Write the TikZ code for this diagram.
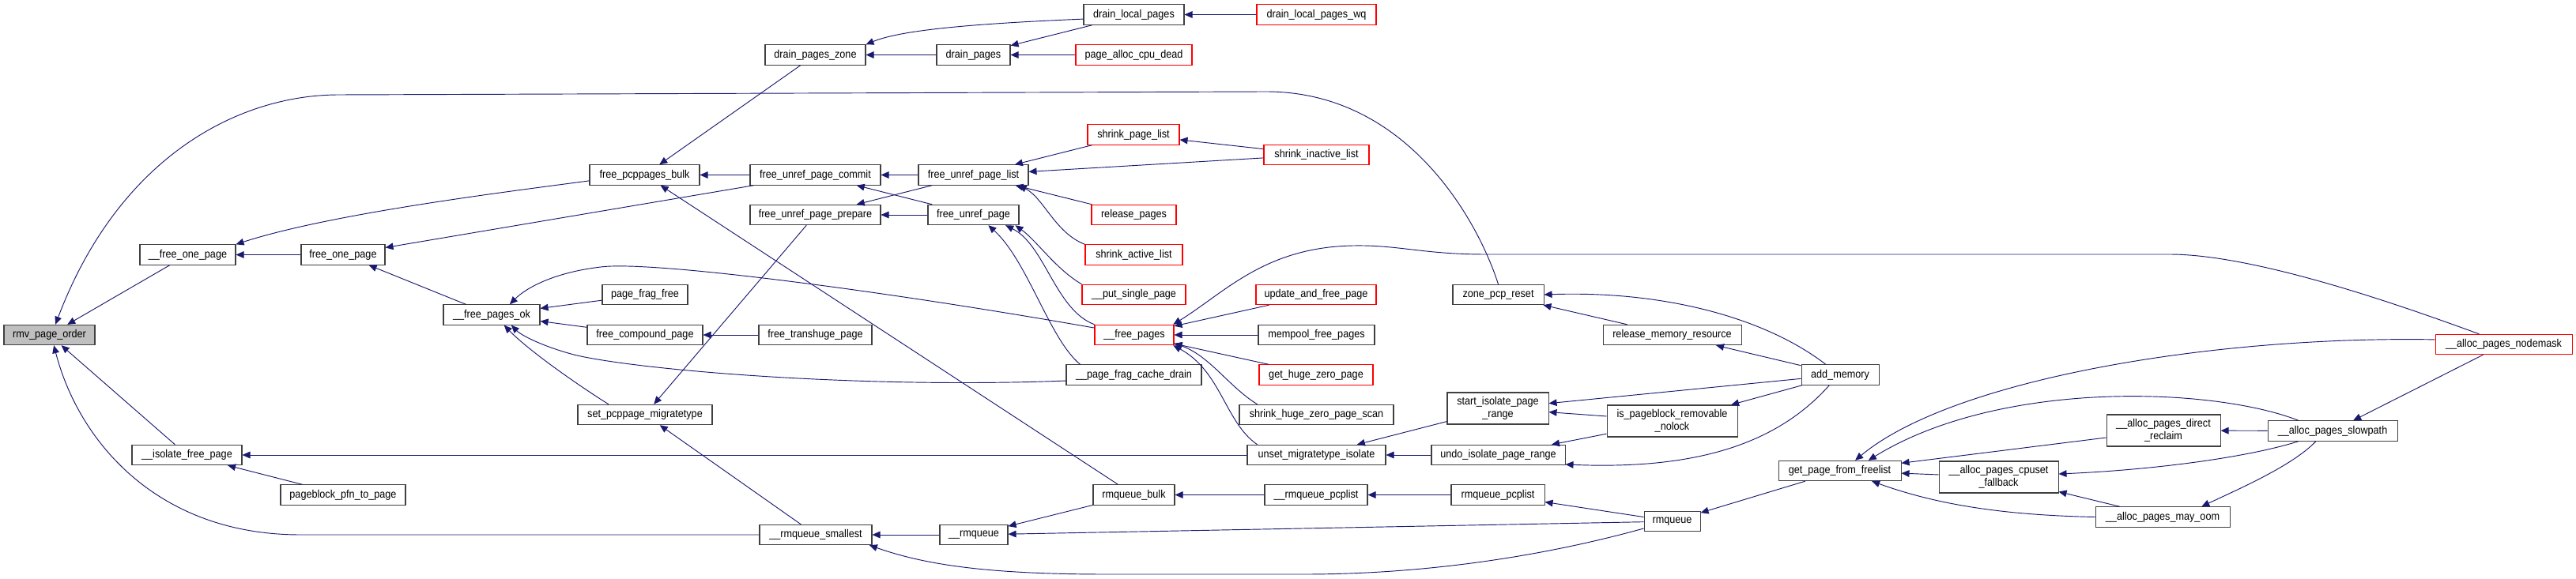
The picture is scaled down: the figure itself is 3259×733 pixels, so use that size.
\documentclass[tikz,border=0pt]{standalone}
\usepackage{fontspec}
\setmainfont[FakeStretch=0.9]{Liberation Sans}
\usetikzlibrary{arrows.meta}
\definecolor{callblue}{HTML}{191970}

\begin{document}
\begin{tikzpicture}[x=0.3mm,y=-0.3mm,
  fn/.style={draw=black!75, line width=0.9pt, fill=white, minimum width=#1*0.3mm,
    minimum height=7.6mm, inner sep=0pt, font=\fontsize{12}{13.4}\selectfont},
  fnred/.style={fn=#1, draw=red},
  fn2/.style={fn=#1, minimum height=12mm, align=center},
  call/.style={draw=callblue, line width=0.8pt, -{Triangle[length=3mm,width=2.6mm]}}]
  \useasboundingbox (0,0) rectangle (3259,733);

  \node[fn=115, fill=gray!50] (rmv) at (62.5,424) {rmv\_page\_order};
  \node[fn=121] (fop1) at (237.5,322.5) {\_\_free\_one\_page};
  \node[fn=106] (fop) at (434,322.5) {free\_one\_page};
  \node[fn=139] (fpb) at (815.5,221.5) {free\_pcppages\_bulk};
  \node[fn=127] (dpz) at (1031.5,69.5) {drain\_pages\_zone};
  \node[fn=93] (dp) at (1231.5,69.5) {drain\_pages};
  \node[fn=127] (dlp) at (1434.5,18.5) {drain\_local\_pages};
  \node[fnred=151] (dlpwq) at (1665.5,18.5) {drain\_local\_pages\_wq};
  \node[fnred=147] (pacd) at (1434.5,69.5) {page\_alloc\_cpu\_dead};
  \node[fn=165] (fupc) at (1031.5,221.5) {free\_unref\_page\_commit};
  \node[fn=139] (fupl) at (1231.5,221.5) {free\_unref\_page\_list};
  \node[fn=165] (fupp) at (1031.5,272) {free\_unref\_page\_prepare};
  \node[fn=115] (fup) at (1231.5,272) {free\_unref\_page};
  \node[fnred=116] (spl) at (1434,170.5) {shrink\_page\_list};
  \node[fnred=133] (sil) at (1665.5,196) {shrink\_inactive\_list};
  \node[fnred=107] (rp) at (1434.5,272) {release\_pages};
  \node[fnred=123] (sal) at (1434.5,322.5) {shrink\_active\_list};
  \node[fnred=131] (psp) at (1434.5,373) {\_\_put\_single\_page};
  \node[fn=122] (fpo) at (622,398.5) {\_\_free\_pages\_ok};
  \node[fn=108] (pff) at (816,373) {page\_frag\_free};
  \node[fn=146] (fcp) at (816,424) {free\_compound\_page};
  \node[fn=143] (fthp) at (1031.5,424) {free\_transhuge\_page};
  \node[fn=170] (spm) at (816,525) {set\_pcppage\_migratetype};
  \node[fn=139] (ifp) at (236.5,576) {\_\_isolate\_free\_page};
  \node[fn=158] (ppp) at (434,626.5) {pageblock\_pfn\_to\_page};
  \node[fnred=100] (fp) at (1435,424) {\_\_free\_pages};
  \node[fn=171] (pfcd) at (1434.5,474.5) {\_\_page\_frag\_cache\_drain};
  \node[fn=103] (rqb) at (1434.5,626.5) {rmqueue\_bulk};
  \node[fn=142] (rqs) at (1032,677) {\_\_rmqueue\_smallest};
  \node[fn=86] (rqq) at (1232,677) {\_\_rmqueue};
  \node[fnred=152] (uafp) at (1665,373) {update\_and\_free\_page};
  \node[fn=147] (mfp) at (1665.5,424) {mempool\_free\_pages};
  \node[fnred=144] (ghzp) at (1665,474.5) {get\_huge\_zero\_page};
  \node[fn=195] (shzps) at (1665.5,525) {shrink\_huge\_zero\_page\_scan};
  \node[fn=175] (umi) at (1665.5,576) {unset\_migratetype\_isolate};
  \node[fn=130] (rqplq) at (1665,626.5) {\_\_rmqueue\_pcplist};
  \node[fn=115] (zpr) at (1895.5,373) {zone\_pcp\_reset};
  \node[fn=175] (rmr) at (2115.5,424) {release\_memory\_resource};
  \node[fn=98] (am) at (2328,474.5) {add\_memory};
  \node[fn2=128] (sipr) at (1895,517) {start\_isolate\_page\\\_range};
  \node[fn2=165] (ipr) at (2115.5,533) {is\_pageblock\_removable\\\_nolock};
  \node[fn=169] (uipr) at (1895.5,576) {undo\_isolate\_page\_range};
  \node[fn=118] (rqpl) at (1895,626.5) {rmqueue\_pcplist};
  \node[fn=71] (rq) at (2115.5,660) {rmqueue};
  \node[fn=155] (gpff) at (2327.5,596) {get\_page\_from\_freelist};
  \node[fn2=151] (apcf) at (2528.5,604) {\_\_alloc\_pages\_cpuset\\\_fallback};
  \node[fn2=144] (apdr) at (2737,545) {\_\_alloc\_pages\_direct\\\_reclaim};
  \node[fn=170] (apmo) at (2736,654.5) {\_\_alloc\_pages\_may\_oom};
  \node[fn=164] (aps) at (2951,545.5) {\_\_alloc\_pages\_slowpath};
  \node[fnred=173] (apn) at (3167.5,436) {\_\_alloc\_pages\_nodemask};

  % callers of rmv_page_order
  \draw[call] (fop1) -- (rmv);
  \draw[call] (ifp) -- (rmv);
  \draw[call] (zpr.north) .. controls (1870,280) and (1780,115) .. (1600,116)
    -- (429,120) .. controls (300,120) and (150,200) .. (rmv.60);
  \draw[call] (rqs.west) -- (380,677) .. controls (200,677) and (100,560) .. (rmv.-67);

  \draw[call] (fop) -- (fop1);
  \draw[call] (fpb.-174) .. controls (640,243) and (420,270) .. (fop1.north east);
  \draw[call] (fupc) -- (fop);
  \draw[call] (fpo) -- (fop);
  \draw[call] (dpz) -- (fpb);
  \draw[call] (fupc) -- (fpb);
  \draw[call] (rqb) -- (fpb);
  \draw[call] (dp) -- (dpz);
  \draw[call] (dlp.-175) .. controls (1230,30) and (1140,38) .. (dpz.north east);
  \draw[call] (dlp) -- (dp);
  \draw[call] (pacd) -- (dp);
  \draw[call] (dlpwq) -- (dlp);
  \draw[call] (fupl) -- (fupc);
  \draw[call] (fup) -- (fupc);
  \draw[call] (fupl) -- (fupp);
  \draw[call] (fup) -- (fupp);
  \draw[call] (spl) -- (fupl);
  \draw[call] (sil) -- (fupl);
  \draw[call] (rp) -- (fupl);
  \draw[call] (sal.north west) .. controls (1335,295) and (1320,250) .. (fupl.-13);
  \draw[call] (sil) -- (spl);
  \draw[call] (psp.north west) .. controls (1335,340) and (1312,305) .. (fup.-14);
  \draw[call] (fp.north west) .. controls (1335,392) and (1322,310) .. (fup.-18);
  \draw[call] (pfcd.169) .. controls (1328,430) and (1300,330) .. (fup.-35);

  % __free_pages_ok
  \draw[call] (pff) -- (fpo);
  \draw[call] (fcp) -- (fpo);
  \draw[call] (fp.170) .. controls (1100,365) and (820,330) .. (760,338)
    .. controls (700,345) and (665,365) .. (fpo.30);
  \draw[call] (pfcd.-175) .. controls (1100,492) and (820,470) .. (730,450)
    .. controls (690,440) and (660,425) .. (fpo.-28);
  \draw[call] (spm.164) .. controls (735,490) and (670,445) .. (fpo.-40);
  \draw[call] (fthp) -- (fcp);
  \draw[call] (fupp) -- (spm);
  \draw[call] (rqs) -- (spm);
  \draw[call] (ppp) -- (ifp);
  \draw[call] (umi) -- (ifp);

  % __free_pages
  \draw[call] (uafp) -- (fp);
  \draw[call] (mfp) -- (fp);
  \draw[call] (ghzp) -- (fp);
  \draw[call] (shzps.170) .. controls (1555,490) and (1530,450) .. (fp.-12);
  \draw[call] (umi.170) .. controls (1550,535) and (1545,470) .. (fp.-15);
  \draw[call] (apn.157) .. controls (3060,395) and (2860,322) .. (2745,322)
    -- (1880,322) .. controls (1800,322) and (1770,310) .. (1712,311)
    .. controls (1600,313) and (1550,370) .. (fp.15);

  % isolation and memory hotplug
  \draw[call] (sipr) -- (umi);
  \draw[call] (uipr) -- (umi);
  \draw[call] (am) -- (sipr);
  \draw[call] (ipr) -- (sipr);
  \draw[call] (ipr) -- (uipr);
  \draw[call] (am) -- (ipr);
  \draw[call] (am.-136) .. controls (2250,560) and (2150,595) .. (uipr.-8);
  \draw[call] (am.144) .. controls (2230,400) and (2100,368) .. (zpr.east);
  \draw[call] (rmr) -- (zpr);
  \draw[call] (am) -- (rmr);

  % rmqueue
  \draw[call] (rqplq) -- (rqb);
  \draw[call] (rqb) -- (rqq);
  \draw[call] (rq) -- (rqq);
  \draw[call] (rqq) -- (rqs);
  \draw[call] (rq.-166) .. controls (1950,705) and (1800,727) .. (1650,727)
    -- (1400,727) .. controls (1250,727) and (1170,715) .. (rqs.-11);
  \draw[call] (rqpl) -- (rqplq);
  \draw[call] (rq) -- (rqpl);
  \draw[call] (gpff) -- (rq);

  % page allocator
  \draw[call] (apn.176) .. controls (2800,425) and (2470,480) .. (gpff.34);
  \draw[call] (aps.163) .. controls (2800,490) and (2530,480) .. (gpff.20);
  \draw[call] (apdr) -- (gpff);
  \draw[call] (apcf) -- (gpff);
  \draw[call] (apmo.west) .. controls (2520,652) and (2440,635) .. (gpff.-18);
  \draw[call] (aps) -- (apdr);
  \draw[call] (aps.-163) .. controls (2840,580) and (2720,595) .. (apcf.3);
  \draw[call] (apmo) -- (apcf);
  \draw[call] (aps.-148) .. controls (2900,590) and (2830,620) .. (apmo.15);
  \draw[call] (apn) -- (aps);
\end{tikzpicture}
\end{document}
